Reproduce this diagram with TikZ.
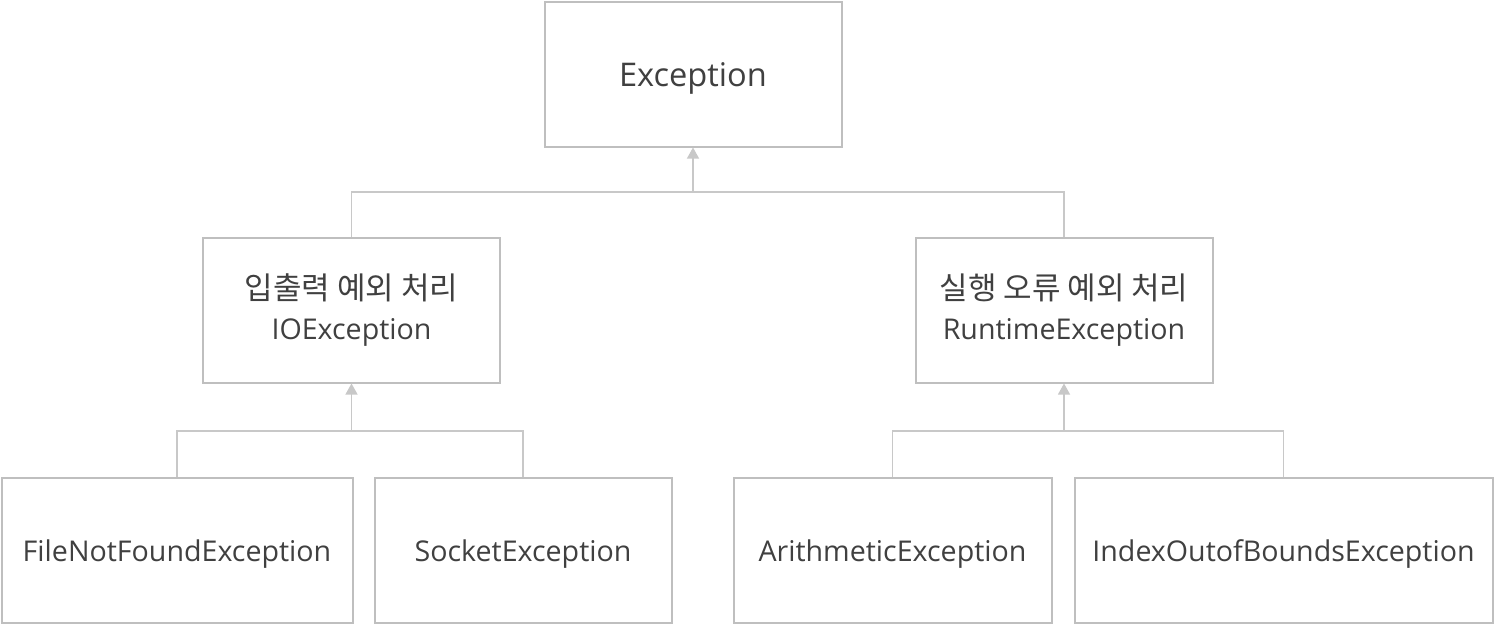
\documentclass[tikz,border=0pt]{standalone}
\usepackage{fontspec}
\setmainfont{Open Sans}
\newfontfamily\kr{Noto Sans CJK KR}
\usetikzlibrary{arrows.meta}
\definecolor{boxline}{HTML}{BFBFBF}
\definecolor{conline}{HTML}{C8C8C8}
\definecolor{txt}{HTML}{404040}
\newcommand\lowtext[1]{\raisebox{-11pt}[0pt][0pt]{#1}}
\tikzset{
  cls/.style={draw=boxline, line width=2pt, fill=white, text=txt, inner sep=0pt,
    font=\fontsize{28.6}{40}\selectfont, align=center, minimum height=145pt},
  conn/.style={draw=conline, line width=1.2pt},
  inh/.style={conn, -{Triangle[length=11pt,width=12pt,fill=conline]}}
}
\begin{document}
\begin{tikzpicture}[x=1pt,y=-1pt]
\useasboundingbox (0,0) rectangle (1494,624);
\node[cls, minimum width=297pt, font=\fontsize{32.6}{40}\selectfont] (exc) at (693,74) {\raisebox{-12pt}[0pt][0pt]{Exception}};
\node[cls, minimum width=297pt] (io) at (351.5,310) {{\kr\fontsize{31}{40}\selectfont 입출력 예외 처리}\\IOException};
\node[cls, minimum width=297pt] (rt) at (1064,310) {{\kr\fontsize{31}{40}\selectfont 실행 오류 예외 처리}\\RuntimeException};
\node[cls, minimum width=351pt] (fnf) at (177,550) {\lowtext{FileNotFoundException}};
\node[cls, minimum width=297pt] (sock) at (523,550) {\lowtext{SocketException}};
\node[cls, minimum width=318pt] (ari) at (892.5,550) {\lowtext{ArithmeticException}};
\node[cls, minimum width=418pt] (idx) at (1283.5,550) {\lowtext{IndexOutofBoundsException}};

\coordinate (j1) at (693,192);
\coordinate (j2) at (351.5,431);
\coordinate (j3) at (1064,431);

\draw[conn] (io.north) |- (j1) -| (rt.north);
\draw[inh] (j1) -- (exc.south);
\draw[conn] (fnf.north) |- (j2) -| (sock.north);
\draw[inh] (j2) -- (io.south);
\draw[conn] (ari.north) |- (j3) -| (idx.north);
\draw[inh] (j3) -- (rt.south);
\end{tikzpicture}
\end{document}
